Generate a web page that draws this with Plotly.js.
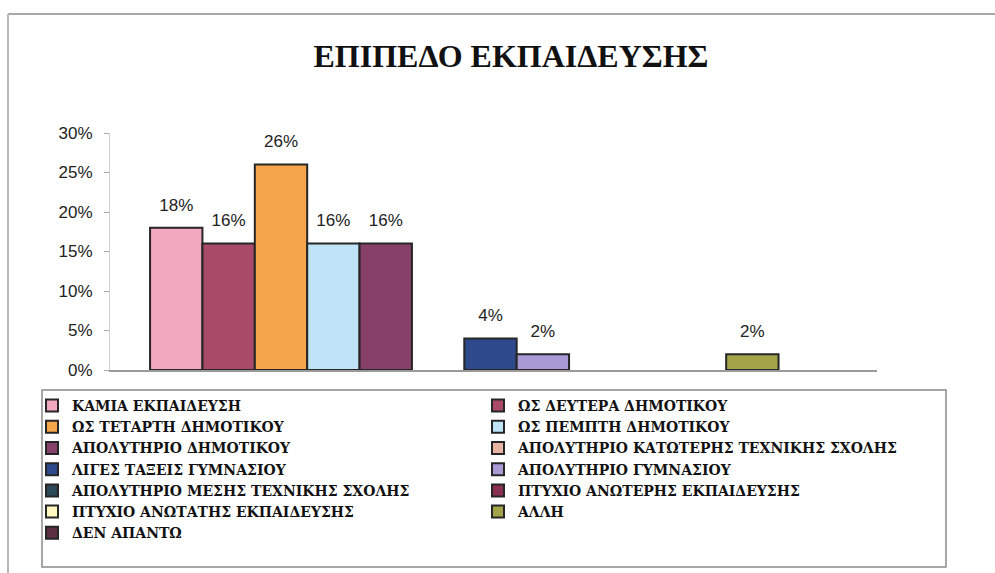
<!DOCTYPE html>
<html>
<head>
<meta charset="utf-8">
<script src="https://cdn.plot.ly/plotly-3.0.1.min.js"></script>
<style>html,body{margin:0;padding:0;background:#fff;}#chart{width:995px;height:573px;}</style>
</head>
<body>
<div id="chart"></div>
<script>
// ---- data ----
const chartTitle = 'ΕΠΙΠΕΔΟ ΕΚΠΑΙΔΕΥΣΗΣ';
const seriesNames = [
  'ΚΑΜΙΑ ΕΚΠΑΙΔΕΥΣΗ',
  'ΩΣ ΔΕΥΤΕΡΑ ΔΗΜΟΤΙΚΟΥ',
  'ΩΣ ΤΕΤΑΡΤΗ ΔΗΜΟΤΙΚΟΥ',
  'ΩΣ ΠΕΜΠΤΗ ΔΗΜΟΤΙΚΟΥ',
  'ΑΠΟΛΥΤΗΡΙΟ ΔΗΜΟΤΙΚΟΥ',
  'ΑΠΟΛΥΤΗΡΙΟ ΚΑΤΩΤΕΡΗΣ ΤΕΧΝΙΚΗΣ ΣΧΟΛΗΣ',
  'ΛΙΓΕΣ ΤΑΞΕΙΣ ΓΥΜΝΑΣΙΟΥ',
  'ΑΠΟΛΥΤΗΡΙΟ ΓΥΜΝΑΣΙΟΥ',
  'ΑΠΟΛΥΤΗΡΙΟ ΜΕΣΗΣ ΤΕΧΝΙΚΗΣ ΣΧΟΛΗΣ',
  'ΠΤΥΧΙΟ ΑΝΩΤΕΡΗΣ ΕΚΠΑΙΔΕΥΣΗΣ',
  'ΠΤΥΧΙΟ ΑΝΩΤΑΤΗΣ ΕΚΠΑΙΔΕΥΣΗΣ',
  'ΑΛΛΗ',
  'ΔΕΝ ΑΠΑΝΤΩ'
];
const seriesValues = [18, 16, 26, 16, 16, 0, 4, 2, 0, 0, 0, 2, 0];
const seriesColors = [
  '#f2a8bd', '#a84a68', '#f6a64a', '#c0e4f7', '#86406a', '#e9b4a4',
  '#2e4a8c', '#a99ad6', '#2c4a5a', '#8a3050', '#fff6c0', '#a3a34a', '#5e3044'
];
const yTicks = [0, 5, 10, 15, 20, 25, 30];

// ---- traces ----
const traces = seriesNames.map((name, i) => ({
  type: 'bar',
  name: name,
  x: [name],
  // a 0% series has no visible bar (only its legend entry)
  y: [seriesValues[i] > 0 ? seriesValues[i] : null],
  width: 1,
  marker: {color: seriesColors[i], line: {color: '#262626', width: 2}},
  legend: i % 2 === 0 ? 'legend' : 'legend2',
  hoverinfo: 'skip'
}));

const labelX = [], labelY = [], labelText = [];
seriesNames.forEach((n, i) => {
  if (seriesValues[i] > 0) {
    labelX.push(n); labelY.push(seriesValues[i]); labelText.push(seriesValues[i] + '%');
  }
});
traces.push({
  type: 'scatter',
  mode: 'markers+text',
  x: labelX,
  y: labelY,
  text: labelText,
  textposition: 'top center',
  textfont: {family: 'Liberation Sans, Arial, sans-serif', size: 17, color: '#222'},
  marker: {size: 19, opacity: 0},
  showlegend: false,
  hoverinfo: 'skip',
  cliponaxis: false
});

// paper-coordinate helpers for decoration
const L = 110, R = 877, T = 133, B = 370;
const px = v => (v - L) / (R - L);
const py = v => 1 - (v - T) / (B - T);

const legendFont = {family: 'DejaVu Serif, serif', size: 14, color: '#111', weight: 'bold'};

const layout = {
  width: 995, height: 573,
  margin: {l: L, r: 995 - R, t: T, b: 573 - B, autoexpand: false},
  paper_bgcolor: '#fff', plot_bgcolor: '#fff',
  barmode: 'overlay', bargap: 0,
  showlegend: true,
  title: {
    text: chartTitle,
    font: {family: 'Liberation Serif, Times New Roman, serif', size: 32, color: '#111', weight: 'bold'},
    xref: 'container', yref: 'container', x: 511 / 995, y: 1 - 56 / 573,
    xanchor: 'center', yanchor: 'middle', automargin: false
  },
  xaxis: {
    type: 'category',
    range: [-1.265, 13.38],
    showticklabels: false, ticks: '', showgrid: false, zeroline: false,
    showline: true, linecolor: '#9a9a9a', linewidth: 1.5, fixedrange: true
  },
  yaxis: {
    range: [0, 30], tickvals: yTicks, ticktext: yTicks.map(v => v + '%'),
    ticks: 'outside', ticklen: 5, tickcolor: '#aaa', ticklabelstandoff: 8,
    tickfont: {family: 'Liberation Sans, Arial, sans-serif', size: 17, color: '#222'},
    showgrid: false, zeroline: false,
    showline: true, linecolor: '#d0d0d0', linewidth: 1, fixedrange: true
  },
  legend: {
    xref: 'container', yref: 'container', x: 32 / 995, y: 1 - 390 / 573,
    xanchor: 'left', yanchor: 'top', orientation: 'v', traceorder: 'normal',
    font: legendFont, bgcolor: 'rgba(0,0,0,0)', borderwidth: 0
  },
  legend2: {
    xref: 'container', yref: 'container', x: 478 / 995, y: 1 - 390 / 573,
    xanchor: 'left', yanchor: 'top', orientation: 'v', traceorder: 'normal',
    font: legendFont, bgcolor: 'rgba(0,0,0,0)', borderwidth: 0
  },
  shapes: [
    {type: 'rect', xref: 'paper', yref: 'paper', x0: px(42), x1: px(946), y0: py(390), y1: py(567),
     line: {color: '#8a8a8a', width: 1.5}, fillcolor: 'rgba(0,0,0,0)', layer: 'below'},
    {type: 'line', xref: 'paper', yref: 'paper', x0: px(8), x1: px(995), y0: py(14), y1: py(14),
     line: {color: '#a8a8a8', width: 2}},
    {type: 'line', xref: 'paper', yref: 'paper', x0: px(8), x1: px(8), y0: py(14), y1: py(573),
     line: {color: '#b8b8b8', width: 2}}
  ]
};

Plotly.newPlot('chart', traces, layout, {displayModeBar: false, staticPlot: true});
</script>
</body>
</html>
